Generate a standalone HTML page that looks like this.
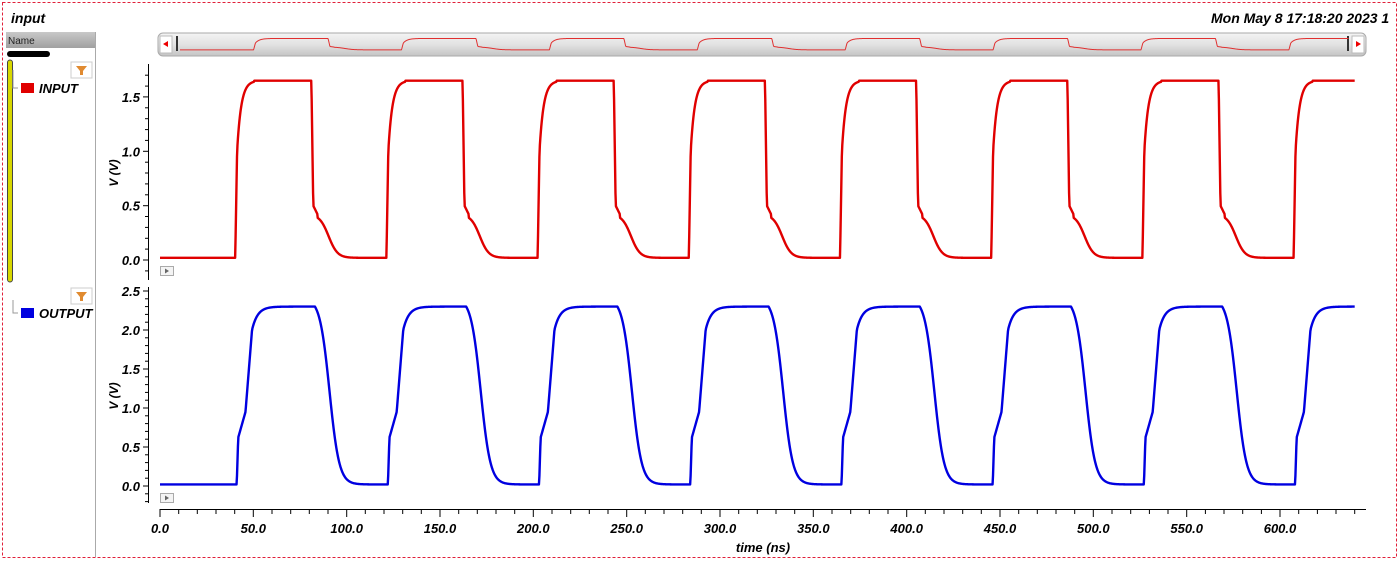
<!DOCTYPE html>
<html><head><meta charset="utf-8">
<style>
html,body{margin:0;padding:0;background:#fff;width:1400px;height:561px;overflow:hidden;font-family:"Liberation Sans",sans-serif;}
svg{position:absolute;left:0;top:0}
text{font-family:"Liberation Sans",sans-serif;font-weight:bold;font-style:italic}
</style></head><body>
<svg id="s" width="1400" height="561" xmlns="http://www.w3.org/2000/svg">
<defs>
<linearGradient id="hd" x1="0" y1="0" x2="0" y2="1"><stop offset="0" stop-color="#c8c8c8"/><stop offset="1" stop-color="#a0a0a0"/></linearGradient>
<linearGradient id="sb" x1="0" y1="0" x2="0" y2="1"><stop offset="0" stop-color="#f4f4f4"/><stop offset="0.5" stop-color="#e2e2e2"/><stop offset="1" stop-color="#c4c4c4"/></linearGradient>
</defs>
<rect x="2.5" y="2.5" width="1394" height="555" fill="none" stroke="#e0203a" stroke-width="1" stroke-dasharray="3,2"/>
<text x="11" y="23" font-size="14" fill="#000">input</text>
<text x="1211" y="23" font-size="14" fill="#000">Mon May 8 17:18:20 2023  1</text>
<rect x="6" y="32" width="90" height="16" fill="url(#hd)"/>
<text x="8" y="44" font-size="10" style="font-weight:normal;font-style:normal" fill="#222">Name</text>
<line x1="95.5" y1="32" x2="95.5" y2="557" stroke="#aaa"/>
<rect x="7" y="51" width="43" height="6" rx="3" fill="#000"/>
<rect x="7.5" y="60" width="5" height="222" rx="2.5" fill="#d8d800" stroke="#444"/>
<rect x="71" y="62" width="21" height="16" fill="#fff" stroke="#ccc"/>
<path d="M76 66 h11 l-4 5 v4 h-3 v-4z" fill="#e08a30"/>
<path d="M13 70 v18 h5" fill="none" stroke="#999"/>
<rect x="21" y="83" width="13" height="10" fill="#e00000"/>
<text x="39" y="93" font-size="13" fill="#000">INPUT</text>
<rect x="71" y="288" width="21" height="16" fill="#fff" stroke="#ccc"/>
<path d="M76 292 h11 l-4 5 v4 h-3 v-4z" fill="#e08a30"/>
<path d="M13 300 v13 h5" fill="none" stroke="#999"/>
<rect x="21" y="308" width="13" height="10" fill="#0000e0"/>
<text x="39" y="318" font-size="13" fill="#000">OUTPUT</text>
<rect x="158" y="33" width="1208" height="23" rx="5" fill="url(#sb)" stroke="#aaa"/>
<rect x="160" y="36" width="12" height="17" fill="#fff" stroke="#bbb"/>
<path d="M163 44 l5 -3 v6z" fill="#e00"/>
<rect x="1352" y="36" width="12" height="17" fill="#fff" stroke="#bbb"/>
<path d="M1361 44 l-5 -3 v6z" fill="#e00"/>
<rect x="176" y="36" width="2" height="15" fill="#333"/>
<rect x="1347" y="36" width="2" height="15" fill="#333"/>
<g id="g"></g>
</svg>
<script>
var g=document.getElementById('g');var h='';var T=81,S=40.3;
function X(t){return 160+t*1.8667;}
function vin(t){if(t<S)return 0.02;var u=(t-S)%T;
 if(u<1)return 0.02+0.98*u; if(u<10)return 1.65-0.65*Math.exp(-(u-1)/2.2);
 if(u<40.8)return 1.65; if(u<41.8)return 1.65-(u-40.8)*1.15;
 if(u<44)return 0.5-(u-41.8)*0.035;
 var v=0.02+0.40/(1+Math.exp((u-50)/2.4)); return Math.min(v,0.42);}
function vout(t){if(t<S+0.8)return 0.02;var u=(t-S)%T;
 if(u<0.8)return 0.02; if(u<1.6)return 0.02+0.6*(u-0.8)/0.8;
 if(u<5.5)return 0.62+0.33*(u-1.6)/3.9; if(u<9)return 0.95+1.05*(u-5.5)/3.5;
 if(u<42)return Math.max(0.02,Math.min(2.3,2.3-0.3*Math.exp(-(u-9)/3)));
 var v=0.02+2.28*(1.05/(1+Math.exp((u-50.5)/2.6))); return Math.min(2.3,v);}
function path(f,y0,sc,col,x0,xs,sy){var d='';for(var t=0;t<=640;t+=0.25){var x=x0+t*xs,y=y0-f(t)*sc;d+=(t?'L':'M')+x.toFixed(2)+' '+y.toFixed(2);}
 return '<path d="'+d+'" fill="none" stroke="'+col+'" stroke-width="'+sy+'" stroke-linejoin="round"/>';}
h+=path(vin,260,108.7,'#e00000',160,1.8667,2.4);
h+=path(vout,486,78,'#0000e0',160,1.8667,2.4);
h+=path(vin,50,7,'#e03030',180,1.826,1);
function yaxis(y0,sc,maxv,top,bot,labs){var s='<line x1="148.5" y1="'+top+'" x2="148.5" y2="'+bot+'" stroke="#000"/>';
 for(var v=-0.2;v<=maxv+0.001;v+=0.1){var y=y0-v*sc;if(y<top||y>bot)continue;var maj=Math.abs(v*2-Math.round(v*2))<0.01;
  s+='<line x1="'+(maj?143:145)+'" y1="'+y.toFixed(1)+'" x2="148" y2="'+y.toFixed(1)+'" stroke="#000"/>';}
 labs.forEach(function(v){var y=y0-v*sc;s+='<text x="140" y="'+(y+5)+'" font-size="13" text-anchor="end">'+v.toFixed(1)+'</text>';});return s;}
h+=yaxis(260,108.7,1.75,64,280,[0,0.5,1.0,1.5]);
h+=yaxis(486,78,2.55,287,503,[0,0.5,1.0,1.5,2.0,2.5]);
h+='<text transform="translate(118,173) rotate(-90)" font-size="12" text-anchor="middle">V (V)</text>';
h+='<text transform="translate(118,396) rotate(-90)" font-size="12" text-anchor="middle">V (V)</text>';
h+='<rect x="160.5" y="266.5" width="13" height="9" fill="#f4f4f4" stroke="#aaa"/><path d="M165 268.5 l4 2.5 l-4 2.5z" fill="#666"/>';
h+='<rect x="160.5" y="493.5" width="13" height="9" fill="#f4f4f4" stroke="#aaa"/><path d="M165 495.5 l4 2.5 l-4 2.5z" fill="#666"/>';
h+='<line x1="160" y1="509.5" x2="1366" y2="509.5" stroke="#000"/>';
for(var t=0;t<=640;t+=10){var x=X(t);var maj=t%50==0;h+='<line x1="'+x.toFixed(1)+'" y1="509" x2="'+x.toFixed(1)+'" y2="'+(maj?517:514)+'" stroke="#000"/>';
 if(maj)h+='<text x="'+x.toFixed(1)+'" y="533" font-size="13" text-anchor="middle">'+t.toFixed(1)+'</text>';}
h+='<text x="763" y="552" font-size="13" text-anchor="middle">time (ns)</text>';
g.innerHTML=h;
</script>
</body></html>
